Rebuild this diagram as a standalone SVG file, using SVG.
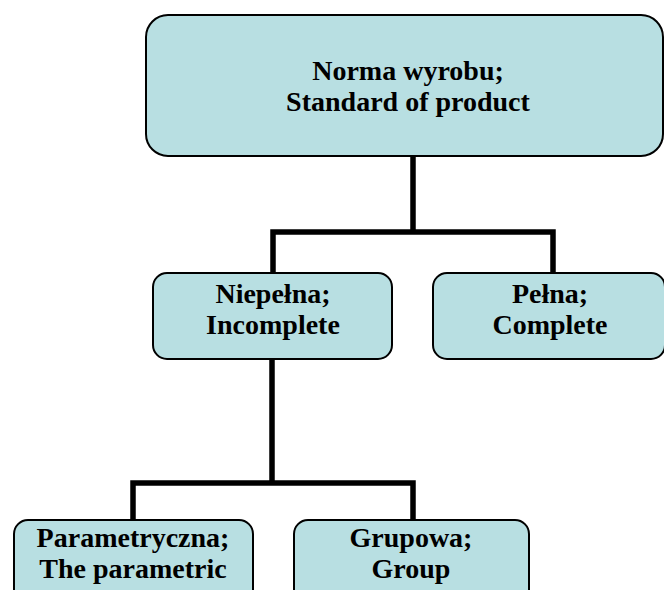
<svg xmlns="http://www.w3.org/2000/svg" width="664" height="590" viewBox="0 0 664 590">
<style>
.box{fill:#b8dfe2;stroke:#000;stroke-width:2}
.lbl{font-family:"Liberation Serif","Times New Roman",serif;font-weight:bold;font-size:28px;fill:#000;text-anchor:middle}
.con{fill:none;stroke:#000;stroke-width:5.5;stroke-linejoin:miter;stroke-linecap:butt}
</style>
<rect x="0" y="0" width="664" height="590" fill="#fff"/>
<g id="connectors">
<path class="con" d="M413 156V232M273 272V232H553V272"/>
<path class="con" d="M272 359V483M133 520V483H413V520"/>
</g>
<g id="n-root">
<rect class="box" x="146" y="15" width="517" height="141" rx="22"/>
<text class="lbl" x="408" y="80">Norma wyrobu;</text>
<text class="lbl" x="408" y="111">Standard of product</text>
</g>
<g id="n-incomplete">
<rect class="box" x="153" y="273" width="239" height="86" rx="14"/>
<text class="lbl" x="273" y="303">Niepełna;</text>
<text class="lbl" x="273" y="334">Incomplete</text>
</g>
<g id="n-complete">
<rect class="box" x="433" y="273" width="232" height="86" rx="14"/>
<text class="lbl" x="550" y="303">Pełna;</text>
<text class="lbl" x="550" y="334">Complete</text>
</g>
<g id="n-parametric">
<rect class="box" x="14" y="520" width="239" height="86" rx="14"/>
<text class="lbl" x="133" y="547">Parametryczna;</text>
<text class="lbl" x="133" y="578">The parametric</text>
</g>
<g id="n-group">
<rect class="box" x="294" y="520" width="235" height="86" rx="14"/>
<text class="lbl" x="411" y="547">Grupowa;</text>
<text class="lbl" x="411" y="578">Group</text>
</g>
</svg>
